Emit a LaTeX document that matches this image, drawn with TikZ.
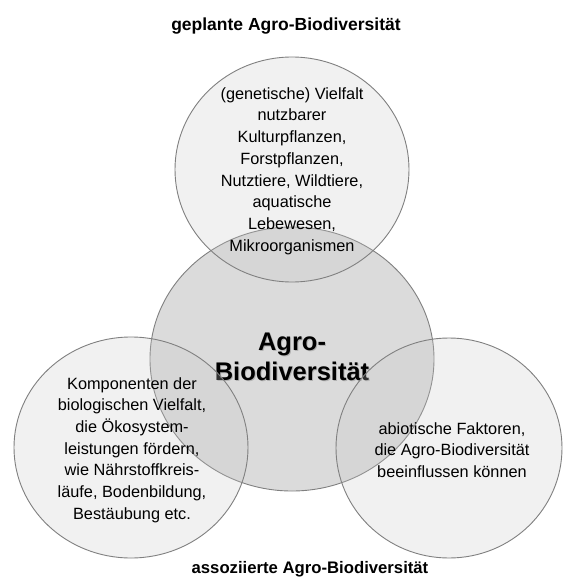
\documentclass[tikz,border=0pt]{standalone}
\usepackage{fontspec}
\setmainfont{Liberation Sans}
\usetikzlibrary{shapes.geometric}
\begin{document}
\begin{tikzpicture}[x=1pt,y=-1pt,
  circ/.style={ellipse, inner sep=0pt, draw=black!50, line width=0.9pt},
  small/.style={circ, fill=black!21, fill opacity=0.25},
  body/.style={align=center, inner sep=0pt, font=\fontsize{16.3}{21.7}\selectfont},
  title/.style={inner sep=0pt, font=\fontsize{17.5}{21}\selectfont\bfseries},
  big/.style={align=center, inner sep=0pt, font=\fontsize{25.5}{30}\selectfont\bfseries}]
\useasboundingbox (0,0) rectangle (563,578);
\fill[white] (0,0) rectangle (563,578);
\node[title] (ttop) at (286,26) {geplante Agro-Biodiversität};
\node[title, font=\fontsize{16.7}{20}\selectfont\bfseries] (tbot) at (310,569) {assoziierte Agro-Biodiversität};
\node[circ, fill=black!14, minimum width=284pt, minimum height=264pt] (mid) at (292,359) {};
\node[big, text=black!30] (midshadow) at (293,358) {Agro-\\Biodiversität};
\node[big] (midtext) at (292,357) {Agro-\\Biodiversität};
\node[small, minimum width=234pt, minimum height=225pt] (top) at (292,169.5) {};
\node[small, minimum width=234pt, minimum height=221pt] (left) at (131,447.5) {};
\node[small, minimum width=226pt, minimum height=220pt] (right) at (449,448) {};
\node[body] (toptext) at (292,171) {(genetische) Vielfalt\\nutzbarer\\Kulturpflanzen,\\Forstpflanzen,\\Nutztiere, Wildtiere,\\aquatische\\Lebewesen,\\Mikroorganismen};
\node[body] (lefttext) at (132,450) {Komponenten der\\biologischen Vielfalt,\\die Ökosystem-\\leistungen fördern,\\wie Nährstoffkreis-\\läufe, Bodenbildung,\\Bestäubung etc.};
\node[body] (righttext) at (452,450) {abiotische Faktoren,\\die Agro-Biodiversität\\beeinflussen können};
\end{tikzpicture}
\end{document}
